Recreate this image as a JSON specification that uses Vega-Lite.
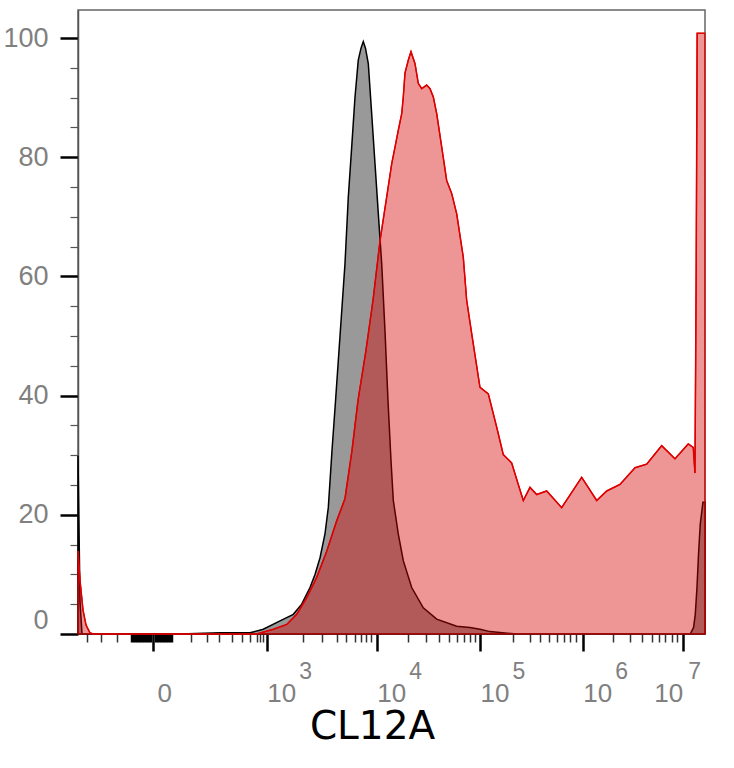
{
  "$schema": "https://vega.github.io/schema/vega-lite/v6.json",
  "width": 627,
  "height": 624,
  "autosize": "none",
  "padding": {"left": 78, "top": 10, "right": 29, "bottom": 134},
  "background": "white",
  "config": {"view": {"stroke": "#666666", "strokeWidth": 1.5}},
  "datasets": {
    "control": [
      {"ch": 0, "count": 29.9}, {"ch": 3.2, "count": 5.5}, {"ch": 6.4, "count": 0}, {"ch": 67, "count": 0},
      {"ch": 162.7, "count": 0}, {"ch": 226.5, "count": 0.2}, {"ch": 274.3, "count": 0.2}, {"ch": 295.5, "count": 0.8},
      {"ch": 322.2, "count": 2.2}, {"ch": 343.4, "count": 3.3}, {"ch": 356.8, "count": 5.0}, {"ch": 370, "count": 7.8},
      {"ch": 378, "count": 10}, {"ch": 386, "count": 12.8}, {"ch": 393.9, "count": 16.8}, {"ch": 399.2, "count": 21.2},
      {"ch": 405.1, "count": 30.8}, {"ch": 410.8, "count": 39.2}, {"ch": 421.8, "count": 56}, {"ch": 425.8, "count": 62.1},
      {"ch": 431.1, "count": 73.3}, {"ch": 436.5, "count": 81.7}, {"ch": 441.8, "count": 90.1}, {"ch": 447, "count": 96.3},
      {"ch": 451.4, "count": 98.3}, {"ch": 455, "count": 99.4}, {"ch": 458.5, "count": 98.3}, {"ch": 463, "count": 95.7},
      {"ch": 468.4, "count": 87.3}, {"ch": 473.7, "count": 78.9}, {"ch": 479, "count": 70.5}, {"ch": 484.4, "count": 62.1},
      {"ch": 489.6, "count": 50.9}, {"ch": 494.4, "count": 39.2}, {"ch": 499.2, "count": 29.1}, {"ch": 502.9, "count": 22.4},
      {"ch": 510.8, "count": 16.8}, {"ch": 518.8, "count": 12.3}, {"ch": 532.2, "count": 7.8}, {"ch": 550.7, "count": 4.4},
      {"ch": 572.1, "count": 2.5}, {"ch": 604, "count": 1.3}, {"ch": 625.2, "count": 1.1}, {"ch": 641.1, "count": 0.8},
      {"ch": 657.1, "count": 0.4}, {"ch": 699.7, "count": 0}, {"ch": 901.1, "count": 0}, {"ch": 976.5, "count": 0},
      {"ch": 981.8, "count": 1.1}, {"ch": 984.5, "count": 3.3}, {"ch": 987.2, "count": 7.8}, {"ch": 989.7, "count": 13.4},
      {"ch": 992.4, "count": 18.4}, {"ch": 996.7, "count": 22.1}, {"ch": 1000, "count": 22.1}
    ],
    "stained": [
      {"ch": 0, "count": 13.9}, {"ch": 3.2, "count": 9}, {"ch": 8, "count": 4}, {"ch": 12.8, "count": 1.5},
      {"ch": 19.1, "count": 0.2}, {"ch": 23.9, "count": 0}, {"ch": 194.6, "count": 0}, {"ch": 285, "count": 0},
      {"ch": 311.5, "count": 0.8}, {"ch": 332.9, "count": 1.6}, {"ch": 348.8, "count": 3.3}, {"ch": 364.8, "count": 6.1},
      {"ch": 380.7, "count": 9.5}, {"ch": 396.7, "count": 13.9}, {"ch": 412.6, "count": 19}, {"ch": 425.8, "count": 22.7},
      {"ch": 437, "count": 30.8}, {"ch": 446.6, "count": 39.2}, {"ch": 459.3, "count": 47.6}, {"ch": 470.5, "count": 56},
      {"ch": 481.7, "count": 66}, {"ch": 492.3, "count": 73.3}, {"ch": 500.3, "count": 78.9}, {"ch": 505.6, "count": 81.7},
      {"ch": 510.8, "count": 84.5}, {"ch": 516.3, "count": 87.3}, {"ch": 518.8, "count": 90.1}, {"ch": 521.5, "count": 94.1},
      {"ch": 526.8, "count": 96.3}, {"ch": 531.1, "count": 97.7}, {"ch": 537.5, "count": 95.7}, {"ch": 542.7, "count": 92.4},
      {"ch": 548.2, "count": 91.5}, {"ch": 556.1, "count": 92.1}, {"ch": 561.4, "count": 91.5}, {"ch": 566.7, "count": 90.1},
      {"ch": 572.1, "count": 87.3}, {"ch": 580.1, "count": 81.7}, {"ch": 588, "count": 76.1}, {"ch": 596, "count": 73.9},
      {"ch": 604, "count": 70.5}, {"ch": 614.5, "count": 63.2}, {"ch": 619.9, "count": 56}, {"ch": 627.9, "count": 50.4},
      {"ch": 641.1, "count": 41.4}, {"ch": 654.4, "count": 40.3}, {"ch": 667.8, "count": 34.7}, {"ch": 678.3, "count": 30.1},
      {"ch": 691.7, "count": 28.7}, {"ch": 702.2, "count": 25.1}, {"ch": 710.2, "count": 22.4}, {"ch": 720.9, "count": 24.6},
      {"ch": 731.6, "count": 23.4}, {"ch": 747.5, "count": 24}, {"ch": 771.4, "count": 21.2}, {"ch": 803.3, "count": 26.3},
      {"ch": 827.3, "count": 22.4}, {"ch": 843.2, "count": 24}, {"ch": 864.4, "count": 25.1}, {"ch": 888.4, "count": 27.9},
      {"ch": 907, "count": 28.5}, {"ch": 930.9, "count": 31.6}, {"ch": 952.1, "count": 29.4}, {"ch": 973.3, "count": 31.9},
      {"ch": 981.3, "count": 31.3}, {"ch": 984, "count": 27}, {"ch": 985.9, "count": 60}, {"ch": 987.5, "count": 100.8},
      {"ch": 1000, "count": 100.8}
    ]
  },
  "layer": [
    {
      "data": {"name": "control"},
      "mark": {"type": "area", "fill": "#999999", "stroke": "#000000", "strokeWidth": 1.5, "interpolate": "linear"},
      "encoding": {
        "x": {
          "field": "ch", "type": "quantitative",
          "scale": {"domain": [0, 1000], "nice": false, "zero": false},
          "axis": {
            "orient": "bottom", "title": null, "labels": false, "domain": false, "grid": false,
            "values": [14.8, 36.2, 62.7, 86.1, 90.9, 95.7, 100.5, 105.3, 110.0, 114.8, 124.4, 129.2, 134.0, 138.8, 143.5, 148.3, 179.7, 206.2, 224.9, 246.1, 261.1, 274.3, 285.0, 290.3, 294.6, 358.9, 388.7, 412.6, 427.4, 441.8, 450.9, 459.3, 466.8, 526.0, 555.0, 575.6, 591.5, 604.6, 615.6, 625.2, 633.7, 693.8, 720.9, 736.8, 751.2, 764.0, 775.1, 784.7, 794.3, 853.7, 880.4, 899.0, 915.0, 927.1, 936.2, 946.9, 954.9],
            "tickSize": 8,
            "tickColor": {"condition": {"test": "datum.value > 80 && datum.value < 150", "value": "#000000"}, "value": "#333333"},
            "tickWidth": {"condition": {"test": "datum.value > 80 && datum.value < 150", "value": 3.5}, "value": 1.5}
          }
        },
        "y": {
          "field": "count", "type": "quantitative",
          "scale": {"domain": [0, 104.7], "nice": false},
          "axis": {
            "orient": "left", "title": null, "labels": false, "domain": false, "grid": false,
            "values": [5, 10, 15, 25, 30, 35, 45, 50, 55, 65, 70, 75, 85, 90, 95],
            "tickSize": 8, "tickColor": "#555555", "tickWidth": 1.2
          }
        }
      }
    },
    {
      "data": {"name": "stained"},
      "mark": {"type": "area", "fill": "#d60000", "fillOpacity": 0.41, "stroke": "#dd0000", "strokeWidth": 1.2, "interpolate": "linear"},
      "encoding": {
        "x": {
          "field": "ch", "type": "quantitative",
          "axis": {
            "orient": "bottom", "domain": false, "grid": false,
            "values": [119.6, 301.0, 476.4, 641.1, 804.9, 964.4],
            "labelExpr": "datum.value < 200 ? '0' : '10'",
            "tickSize": 17, "tickWidth": 2.5, "tickColor": "#000000",
            "labelFont": "Liberation Sans", "labelFontSize": 26, "labelColor": "#808080",
            "labelPadding": 29, "labelBaseline": "top", "labelFlush": false, "labelOverlap": false,
            "labelAlign": {"condition": {"test": "datum.value > 900", "value": "right"}, "value": "left"},
            "labelOffset": {"condition": {"test": "datum.value < 200", "value": 4}, "value": 0},
            "title": "CL12A", "titleFont": "DejaVu Sans", "titleFontSize": 39, "titleFontWeight": "normal",
            "titleColor": "#000000", "titleX": 294, "titleY": 104, "titleAlign": "center", "titleBaseline": "alphabetic"
          }
        },
        "y": {
          "field": "count", "type": "quantitative",
          "axis": {
            "orient": "left", "title": null, "grid": false,
            "values": [0, 20, 40, 60, 80, 100],
            "domain": true, "domainColor": "#555555", "domainWidth": 1.5,
            "tickSize": 18, "tickWidth": 2.5, "tickColor": "#000000",
            "labelFont": "Liberation Sans", "labelFontSize": 27, "labelColor": "#808080",
            "labelPadding": 12, "labelFlush": true, "labelOverlap": false
          }
        }
      }
    },
    {
      "data": {"name": "stained"},
      "mark": {"type": "line", "stroke": "#dd0000", "strokeWidth": 1.5, "interpolate": "linear"},
      "encoding": {
        "x": {
          "field": "ch", "type": "quantitative",
          "axis": {
            "orient": "bottom", "title": null, "domain": false, "grid": false,
            "ticks": false, "tickSize": 0,
            "values": [301.0, 476.4, 641.1, 804.9, 964.4],
            "labelExpr": "datum.value < 400 ? '3' : datum.value < 600 ? '4' : datum.value < 700 ? '5' : datum.value < 900 ? '6' : '7'",
            "labelFont": "Liberation Sans", "labelFontSize": 23, "labelColor": "#808080",
            "labelPadding": 26, "labelBaseline": "top", "labelAlign": "left", "labelFlush": false, "labelOverlap": false,
            "labelOffset": {"condition": {"test": "datum.value > 900", "value": 5}, "value": 32}
          }
        },
        "y": {"field": "count", "type": "quantitative", "axis": null}
      }
    }
  ],
  "resolve": {"axis": {"x": "independent", "y": "independent"}}
}
